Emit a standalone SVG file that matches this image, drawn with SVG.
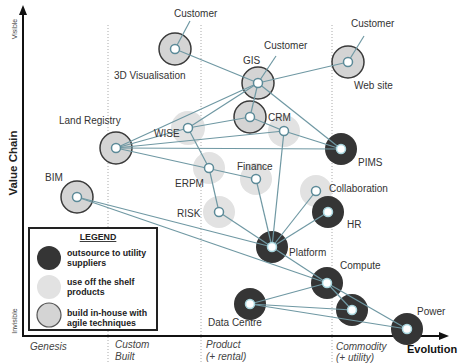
<svg xmlns="http://www.w3.org/2000/svg" width="463" height="364" viewBox="0 0 463 364">
<defs>
<style>
.lbl{font-family:"Liberation Sans",Arial,sans-serif;font-size:10px;fill:#333}
.ax{font-family:"Liberation Sans",Arial,sans-serif;font-style:italic;font-size:10px;fill:#444}
.leg{font-family:"Liberation Sans",Arial,sans-serif;font-weight:bold;font-size:8.8px;fill:#222}
.dot{stroke:#aaa;stroke-width:1;stroke-dasharray:1,2;fill:none}
.c line{stroke:#6f98a3;stroke-width:1.2}
.dark{fill:#353535}
.light{fill:#e2e2e2}
.build{fill:#d4d4d4;stroke:#3a3a3a;stroke-width:1.5}
.in{fill:#fff;stroke:#5c8a98;stroke-width:1.5}
.ind{fill:#fff;stroke:#a9d6de;stroke-width:1.5}
</style>
</defs>
<rect width="463" height="364" fill="#fff"/>
<line class="dot" x1="108" y1="25" x2="108" y2="364"/>
<line class="dot" x1="201" y1="25" x2="201" y2="364"/>
<line class="dot" x1="332" y1="25" x2="332" y2="364"/>
<g id="axes">
<line x1="23" y1="337" x2="23" y2="14" stroke="#111" stroke-width="2"/>
<polygon points="23,5 19,15 27,15" fill="#111"/>
<line x1="22" y1="336" x2="440" y2="336" stroke="#111" stroke-width="2"/>
<polygon points="449,336 439,332 439,340" fill="#111"/>
<text transform="translate(17,29) rotate(-90)" text-anchor="middle" font-family="Liberation Sans,Arial,sans-serif" font-size="7" fill="#444">Visible</text>
<text transform="translate(17,163) rotate(-90)" text-anchor="middle" font-family="Liberation Sans,Arial,sans-serif" font-size="11.5" font-weight="bold" fill="#222">Value Chain</text>
<text transform="translate(17,321) rotate(-90)" text-anchor="middle" font-family="Liberation Sans,Arial,sans-serif" font-size="7" fill="#444">Invisible</text>
<text class="ax" x="30" y="350">Genesis</text>
<text class="ax" x="115" y="348">Custom</text>
<text class="ax" x="115" y="360">Built</text>
<text class="ax" x="206" y="348">Product</text>
<text class="ax" x="206" y="360">(+ rental)</text>
<text class="ax" x="336" y="350">Commodity</text>
<text class="ax" x="336" y="361">(+ utility)</text>
<text x="407" y="353" font-family="Liberation Sans,Arial,sans-serif" font-size="11" font-weight="bold" fill="#111">Evolution</text>
</g>
<g id="bodies">
<circle class="build" cx="175" cy="49" r="16"/>
<circle class="build" cx="258" cy="83" r="16"/>
<circle class="build" cx="348" cy="62" r="16"/>
<circle class="build" cx="250" cy="117" r="16"/>
<circle class="light" cx="284" cy="131" r="16"/>
<circle class="light" cx="188" cy="128" r="17"/>
<circle class="build" cx="116" cy="148" r="16"/>
<circle class="dark" cx="341" cy="149" r="16"/>
<circle class="light" cx="209" cy="168" r="16"/>
<circle class="light" cx="256" cy="179" r="16"/>
<circle class="light" cx="316" cy="191" r="16"/>
<circle class="dark" cx="328" cy="212" r="16"/>
<circle class="build" cx="77" cy="197" r="16"/>
<circle class="light" cx="219" cy="212" r="16"/>
<circle class="dark" cx="272" cy="247" r="16"/>
<circle class="dark" cx="327" cy="283" r="16"/>
<circle class="dark" cx="250" cy="304" r="16"/>
<circle class="dark" cx="352" cy="310" r="16"/>
<circle class="dark" cx="407" cy="329" r="16"/>
</g>
<g id="connectors" class="c">
<line x1="175" y1="49" x2="190" y2="21"/>
<line x1="175" y1="49" x2="258" y2="83"/>
<line x1="258" y1="83" x2="276" y2="56"/>
<line x1="348" y1="62" x2="364" y2="36"/>
<line x1="348" y1="62" x2="258" y2="83"/>
<line x1="258" y1="83" x2="341" y2="149"/>
<line x1="258" y1="83" x2="116" y2="148"/>
<line x1="258" y1="83" x2="188" y2="128"/>
<line x1="258" y1="83" x2="250" y2="117"/>
<line x1="250" y1="117" x2="284" y2="131"/>
<line x1="188" y1="128" x2="250" y2="117"/>
<line x1="116" y1="148" x2="188" y2="128"/>
<line x1="116" y1="148" x2="284" y2="131"/>
<line x1="116" y1="148" x2="341" y2="149"/>
<line x1="116" y1="148" x2="256" y2="179"/>
<line x1="284" y1="131" x2="341" y2="149"/>
<line x1="284" y1="131" x2="272" y2="247"/>
<line x1="188" y1="128" x2="209" y2="168"/>
<line x1="209" y1="168" x2="219" y2="212"/>
<line x1="219" y1="212" x2="272" y2="247"/>
<line x1="256" y1="179" x2="272" y2="247"/>
<line x1="316" y1="191" x2="272" y2="247"/>
<line x1="328" y1="212" x2="272" y2="247"/>
<line x1="77" y1="197" x2="272" y2="247"/>
<line x1="77" y1="197" x2="327" y2="283"/>
<line x1="272" y1="247" x2="327" y2="283"/>
<line x1="327" y1="283" x2="407" y2="329"/>
<line x1="327" y1="283" x2="352" y2="310"/>
<line x1="250" y1="304" x2="327" y2="283"/>
<line x1="250" y1="304" x2="352" y2="310"/>
<line x1="250" y1="304" x2="407" y2="329"/>
</g>
<g id="n-3dvis"><circle class="in" cx="175" cy="49" r="4.5"/><text class="lbl" x="174" y="17">Customer</text><text class="lbl" x="114" y="79">3D Visualisation</text></g>
<g id="n-gis"><circle class="in" cx="258" cy="83" r="4.5"/><text class="lbl" x="243" y="64">GIS</text><text class="lbl" x="264" y="49">Customer</text></g>
<g id="n-website"><circle class="in" cx="348" cy="62" r="4.5"/><text class="lbl" x="351" y="27">Customer</text><text class="lbl" x="354" y="89">Web site</text></g>
<g id="n-crm"><circle class="in" cx="250" cy="117" r="4.5"/><text class="lbl" x="268" y="121">CRM</text></g>
<g id="n-crm2"><circle class="in" cx="284" cy="131" r="4.5"/></g>
<g id="n-wise"><circle class="in" cx="188" cy="128" r="4.5"/><text class="lbl" x="154" y="137">WISE</text></g>
<g id="n-landreg"><circle class="in" cx="116" cy="148" r="4.5"/><text class="lbl" x="59" y="124">Land Registry</text></g>
<g id="n-pims"><circle class="ind" cx="341" cy="149" r="4.5"/><text class="lbl" x="358" y="166">PIMS</text></g>
<g id="n-erpm"><circle class="in" cx="209" cy="168" r="4.5"/><text class="lbl" x="175" y="187">ERPM</text></g>
<g id="n-finance"><circle class="in" cx="256" cy="179" r="4.5"/><text class="lbl" x="237" y="170">Finance</text></g>
<g id="n-collab"><circle class="in" cx="316" cy="191" r="4.5"/><text class="lbl" x="329" y="192">Collaboration</text></g>
<g id="n-hr"><circle class="ind" cx="328" cy="212" r="4.5"/><text class="lbl" x="347" y="228">HR</text></g>
<g id="n-bim"><circle class="in" cx="77" cy="197" r="4.5"/><text class="lbl" x="45" y="181">BIM</text></g>
<g id="n-risk"><circle class="in" cx="219" cy="212" r="4.5"/><text class="lbl" x="177" y="217">RISK</text></g>
<g id="n-platform"><circle class="ind" cx="272" cy="247" r="4.5"/><text class="lbl" x="289" y="256">Platform</text></g>
<g id="n-compute"><circle class="ind" cx="327" cy="283" r="4.5"/><text class="lbl" x="340" y="269">Compute</text></g>
<g id="n-datacentre"><circle class="ind" cx="250" cy="304" r="4.5"/><text class="lbl" x="208" y="326">Data Centre</text></g>
<g id="n-unnamed"><circle class="ind" cx="352" cy="310" r="4.5"/></g>
<g id="n-power"><circle class="ind" cx="407" cy="329" r="4.5"/><text class="lbl" x="417" y="315">Power</text></g>
<g id="legend">
<rect x="29" y="228" width="128" height="102" fill="#fff" stroke="#222" stroke-width="2"/>
<text class="leg" x="98" y="240" text-anchor="middle" text-decoration="underline">LEGEND</text>
<circle cx="49" cy="258" r="12" fill="#353535"/>
<circle cx="49" cy="287" r="12" fill="#e2e2e2"/>
<circle cx="49" cy="315" r="12" fill="#d4d4d4" stroke="#555" stroke-width="1.2"/>
<text class="leg" x="67" y="256">outsource to utility</text>
<text class="leg" x="67" y="266">suppliers</text>
<text class="leg" x="67" y="285">use off the shelf</text>
<text class="leg" x="67" y="295">products</text>
<text class="leg" x="67" y="316">build in-house with</text>
<text class="leg" x="67" y="326">agile techniques</text>
</g>
</svg>
